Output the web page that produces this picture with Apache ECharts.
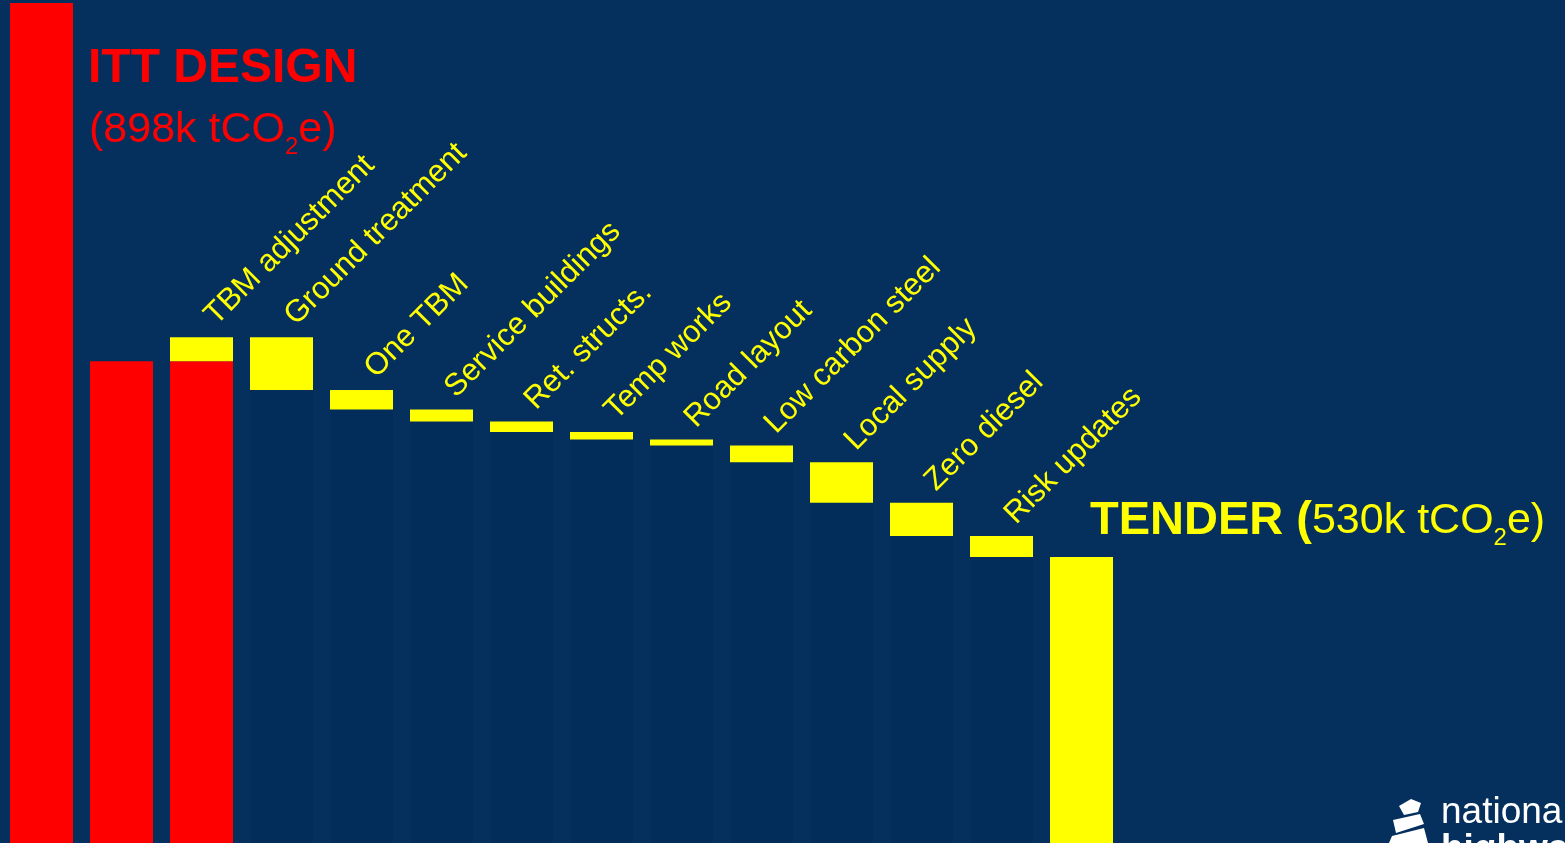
<!DOCTYPE html>
<html>
<head>
<meta charset="utf-8">
<script src="https://cdn.jsdelivr.net/npm/echarts@6/dist/echarts.min.js"></script>
<style>
html,body{margin:0;padding:0;background:#05305e;}
#chart{width:1565px;height:843px;}
</style>
</head>
<body>
<div id="chart"></div>
<script>
// ---- data (k tCO2e) ----
const categories = ['ITT DESIGN', '', 'TBM adjustment', 'Ground treatment', 'One TBM', 'Service buildings',
  'Ret. structs.', 'Temp works', 'Road layout', 'Low carbon steel', 'Local supply', 'Zero diesel', 'Risk updates', 'TENDER'];
// level at which each column's base ends
const baseValues = [898, 660, 660, 641, 628, 620, 613, 608, 604, 593, 566, 544, 530, 530];
// size of each step drawn on top of the base
const stepValues = [null, null, 16, 35, 13, 8, 7, 5, 4, 11, 27, 22, 14, null];
// kind of base: 'itt' (red), 'float' (hidden placeholder), 'tender' (yellow)
const baseKinds = ['itt', 'itt', 'itt', 'float', 'float', 'float', 'float', 'float', 'float', 'float', 'float', 'float', 'float', 'tender'];
const yMin = 340, yMax = 898;

const RED = '#ff0000', YELLOW = '#ffff00', BG = '#05305e', FLOAT = '#022c5a';
const FONT = '"Liberation Sans", Arial, Helvetica, sans-serif';

const chart = echarts.init(document.getElementById('chart'), null, {renderer: 'canvas'});

const kindColor = {itt: RED, float: FLOAT, tender: YELLOW};

// helper: lay out a run of text pieces (with subscripts) as graphic texts
const ctx = document.createElement('canvas').getContext('2d');
function textRun(x, y, pieces) {
  const out = [];
  let cx = x;
  pieces.forEach(p => {
    const font = (p.bold ? 'bold ' : '') + p.size + 'px ' + FONT;
    ctx.font = font;
    const w = ctx.measureText(p.text).width;
    out.push({
      type: 'text', x: cx, y: y + (p.dy || 0), z: 100,
      style: {text: p.text, fill: p.color, font: font, textAlign: 'left', textVerticalAlign: 'middle'}
    });
    cx += w;
  });
  return out;
}

// simple logo mark (decorative)
const logoMark = {
  type: 'group', z: 100,
  children: [
    {type: 'polygon', shape: {points: [[1399, 806], [1411, 799], [1421, 803], [1418, 812], [1404, 815]]}, style: {fill: '#ffffff'}},
    {type: 'polygon', shape: {points: [[1393, 820], [1420, 814], [1424, 824], [1396, 833]]}, style: {fill: '#ffffff'}},
    {type: 'polygon', shape: {points: [[1389, 843], [1392, 836], [1424, 828], [1428, 843]]}, style: {fill: '#ffffff'}}
  ]
};

const graphics = [].concat(
  textRun(88, 69, [{text: 'ITT DESIGN', size: 48, bold: true, color: RED}]),
  textRun(89, 130, [
    {text: '(898k tCO', size: 43, color: RED},
    {text: '2', size: 24, color: RED, dy: 17},
    {text: 'e)', size: 43, color: RED}
  ]),
  textRun(1090, 521, [
    {text: 'TENDER (', size: 47, bold: true, color: YELLOW},
    {text: '530k tCO', size: 43, color: YELLOW},
    {text: '2', size: 24, color: YELLOW, dy: 17},
    {text: 'e)', size: 43, color: YELLOW}
  ]),
  textRun(1441, 813, [{text: 'national', size: 37, color: '#ffffff'}]),
  textRun(1441, 850, [{text: 'highways', size: 37, bold: true, color: '#ffffff'}]),
  [logoMark]
);

chart.setOption({
  backgroundColor: BG,
  animation: false,
  grid: {left: 1.5, right: 443.5, top: 3, bottom: 0, containLabel: false},
  xAxis: {type: 'category', data: categories, show: false},
  yAxis: {type: 'value', min: yMin, max: yMax, show: false},
  series: [
    {
      type: 'bar', stack: 'w', barWidth: 63, z: 2,
      data: baseValues.map((v, i) => ({value: v, itemStyle: {color: kindColor[baseKinds[i]]}}))
    },
    {
      type: 'bar', stack: 'w', barWidth: 63, z: 3,
      itemStyle: {color: YELLOW},
      data: stepValues.map(v => v == null ? '-' : v),
      label: {
        show: true, position: [40, -17], rotate: 45,
        align: 'left', verticalAlign: 'middle',
        color: YELLOW, fontSize: 31, fontFamily: FONT,
        formatter: p => categories[p.dataIndex]
      }
    }
  ],
  graphic: graphics
});
</script>
</body>
</html>
